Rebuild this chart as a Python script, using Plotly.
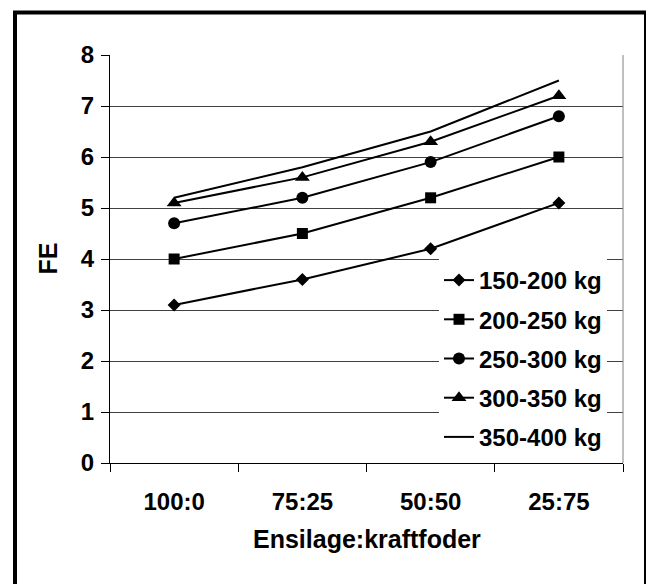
import plotly.graph_objects as go

# Feed ratio categories (silage : concentrate)
categories = ["100:0", "75:25", "50:50", "25:75"]

# FE per weight class
series_names = ["150-200 kg", "200-250 kg", "250-300 kg", "300-350 kg", "350-400 kg"]
fe_150_200 = [3.1, 3.6, 4.2, 5.1]
fe_200_250 = [4.0, 4.5, 5.2, 6.0]
fe_250_300 = [4.7, 5.2, 5.9, 6.8]
fe_300_350 = [5.1, 5.6, 6.3, 7.2]
fe_350_400 = [5.2, 5.8, 6.5, 7.5]

y_ticks = [0, 1, 2, 3, 4, 5, 6, 7, 8]

FONT = "Liberation Sans, Arial, sans-serif"

# Plot-area geometry in pixels
W, H = 646, 584
L, R, T, B = 110, 23, 55, 121
PW, PH = W - L - R, H - T - B


def px_x(p):
    return (p - L) / PW


def px_y(p):
    return (H - B - p) / PH


styles = [
    dict(mode="lines+markers", marker=dict(symbol="diamond", size=10)),
    dict(mode="lines+markers", marker=dict(symbol="square", size=11)),
    dict(mode="lines+markers", marker=dict(symbol="circle", size=12)),
    dict(mode="lines+markers", marker=dict(symbol="triangle-up", size=13)),
    dict(mode="lines"),
]
values = [fe_150_200, fe_200_250, fe_250_300, fe_300_350, fe_350_400]

fig = go.Figure()
for i, (name, vals, st) in enumerate(zip(series_names, values, styles)):
    kw = dict(st)
    if "marker" in kw:
        kw["marker"] = dict(kw["marker"], color="black", line=dict(width=0))
    fig.add_trace(go.Scatter(
        x=categories, y=vals, name=name, legendgroup=f"g{i}",
        line=dict(color="black", width=2), **kw))

fig.update_layout(
    width=W, height=H, autosize=False,
    margin=dict(l=L, r=R, t=T, b=B, pad=0),
    paper_bgcolor="white", plot_bgcolor="white",
    font=dict(family=FONT, color="black", size=24, weight="bold"),
    showlegend=True,
    legend=dict(
        x=px_x(439), y=px_y(258), xanchor="left", yanchor="top",
        bgcolor="white", borderwidth=0, tracegroupgap=5,
        font=dict(family=FONT, size=24, color="black", weight="bold"),
    ),
)

fig.update_xaxes(
    type="category", range=[-0.5, 3.5],
    showline=True, linecolor="black", linewidth=1,
    ticks="outside", tickson="boundaries", ticklen=8, tickcolor="black", tickwidth=1,
    ticklabelstandoff=17,
    tickfont=dict(family=FONT, size=24, weight="bold"),
    showgrid=False, zeroline=False,
)
fig.update_yaxes(
    range=[0, 8], tickvals=y_ticks, ticktext=[str(v) for v in y_ticks],
    showline=True, linecolor="black", linewidth=1,
    ticks="outside", ticklen=8, tickcolor="black", tickwidth=1,
    ticklabelstandoff=2,
    tickfont=dict(family=FONT, size=24, weight="bold"),
    showgrid=True, gridcolor="#404040", gridwidth=1, zeroline=False,
)

# Axis titles
fig.add_annotation(
    text="FE", xref="paper", yref="paper", x=px_x(47.5), y=0.5,
    xanchor="center", yanchor="middle", textangle=-90, showarrow=False,
    font=dict(family=FONT, size=25, weight="bold"))
fig.add_annotation(
    text="Ensilage:kraftfoder", xref="paper", yref="paper", x=0.5, y=px_y(539),
    xanchor="center", yanchor="middle", showarrow=False,
    font=dict(family=FONT, size=25, weight="bold"))

# Right edge of the plot area
fig.add_shape(type="line", xref="paper", yref="paper", x0=1, x1=1, y0=0, y1=1,
              line=dict(color="#808080", width=1))
# Frame round the whole chart
fig.add_shape(type="rect", xref="paper", yref="paper",
              x0=px_x(15), x1=px_x(646), y0=px_y(12.5), y1=px_y(600),
              line=dict(color="black", width=4), layer="above")

fig.write_html("out.html")
